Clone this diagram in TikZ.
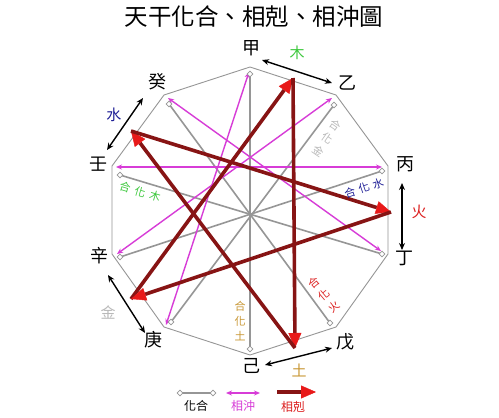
\documentclass[tikz,border=0pt]{standalone}
\usepackage{fontspec}
\newfontfamily\cjk{Noto Sans CJK TC}
\usetikzlibrary{arrows.meta,shapes.geometric,calc}
\definecolor{hegray}{RGB}{150,150,150}
\definecolor{chong}{RGB}{215,60,215}
\definecolor{ke}{RGB}{135,20,20}
\definecolor{kehead}{RGB}{232,25,25}
\definecolor{mugreen}{RGB}{60,200,60}
\definecolor{huored}{RGB}{220,30,30}
\definecolor{tugold}{RGB}{200,150,50}
\definecolor{jingray}{RGB}{185,185,185}
\definecolor{shuiblue}{RGB}{30,30,150}
\tikzset{
 edgeline/.style={draw=hegray, line width=0.9pt},
 heline/.style={draw=hegray, line width=1.6pt},
 hemark/.style={diamond, draw=hegray, fill=white, line width=0.8pt, inner sep=0pt, minimum size=6pt},
 chongline/.style={draw=chong, line width=1.4pt, {Stealth[length=6pt,width=5pt]}-{Stealth[length=6pt,width=5pt]}},
 keline/.style={draw=ke, line width=3.6pt, -{Triangle[length=15pt,width=13pt,color=kehead,line width=0.4pt]}},
 elarrow/.style={draw=black, line width=1.4pt, {Stealth[length=7pt,width=6pt]}-{Stealth[length=7pt,width=6pt]}},
 stem/.style={font=\cjk\fontsize{18}{18}\selectfont, inner sep=0pt},
 elem/.style={font=\cjk\fontsize{15}{15}\selectfont, inner sep=0pt},
 smalllbl/.style={font=\cjk\fontsize{11}{11}\selectfont, inner sep=0pt},
 legendlbl/.style={font=\cjk\fontsize{12}{12}\selectfont, inner sep=0pt},
}
\begin{document}
\begin{tikzpicture}[x=1pt,y=-1pt]
\useasboundingbox[fill=white] (0,0) rectangle (499,418);
% decagon vertices
\coordinate (vJia) at (250,67);
\coordinate (vYi) at (336,95);
\coordinate (vBing) at (388,166);
\coordinate (vDing) at (388,254);
\coordinate (vWu) at (336,327);
\coordinate (vJi) at (250,355);
\coordinate (vGeng) at (164,327);
\coordinate (vXin) at (112,254);
\coordinate (vRen) at (112,166);
\coordinate (vGui) at (164,95);
% gray (he) end points
\coordinate (hJia) at (250,74);
\coordinate (hJi) at (250,349);
\coordinate (hYi) at (334,105);
\coordinate (hGeng) at (171,322);
\coordinate (hBing) at (382,171);
\coordinate (hXin) at (120,257);
\coordinate (hDing) at (382,254);
\coordinate (hRen) at (120,175);
\coordinate (hWu) at (330,323);
\coordinate (hGui) at (169,104);
% magenta (chong) end points
\coordinate (cJia) at (249,72);
\coordinate (cGeng) at (166,325);
\coordinate (cYi) at (332,98);
\coordinate (cXin) at (117,254);
\coordinate (cBing) at (382,167);
\coordinate (cRen) at (116,167);
\coordinate (cDing) at (381,251);
\coordinate (cGui) at (168,98);
% element points
\coordinate (eMu) at (293,78);
\coordinate (eHuo) at (391,212);
\coordinate (eTu) at (295,348);
\coordinate (eJin) at (131,299);
\coordinate (eShui) at (131,131);

% title
\node[font=\cjk\fontsize{23.5}{23.5}\selectfont, inner sep=0pt] (title) at (254,17) {天干化合、相剋、相沖圖};

% decagon
\draw[edgeline] (vJia) -- (vYi) -- (vBing) -- (vDing) -- (vWu) -- (vJi) -- (vGeng) -- (vXin) -- (vRen) -- (vGui) -- cycle;

% he lines
\draw[heline] (hJia) -- (hJi);
\draw[heline] (hYi) -- (hGeng);
\draw[heline] (hBing) -- (hXin);
\draw[heline] (hDing) -- (hRen);
\draw[heline] (hWu) -- (hGui);

% chong lines
\draw[chongline] (cJia) -- (cGeng);
\draw[chongline] (cYi) -- (cXin);
\draw[chongline] (cBing) -- (cRen);
\draw[chongline] (cDing) -- (cGui);

% ke arrows
\draw[keline] (eJin) -- (eMu);
\draw[keline] (eMu) -- (eTu);
\draw[keline] (eTu) -- (eShui);
\draw[keline] (eShui) -- (eHuo);
\draw[keline] (eHuo) -- (eJin);

% he markers
\foreach \p in {hJia,hJi,hYi,hGeng,hBing,hXin,hDing,hRen,hWu,hGui}
  \node[hemark] at (\p) {};

% stem labels
\node[stem] (lJia) at (251,48) {甲};
\node[stem] (lYi) at (347,83) {乙};
\node[stem] (lBing) at (405,164) {丙};
\node[stem] (lDing) at (404,258) {丁};
\node[stem] (lWu) at (345,342) {戊};
\node[stem] (lJi) at (251,366) {己};
\node[stem] (lGeng) at (153,340) {庚};
\node[stem] (lXin) at (99,256) {辛};
\node[stem] (lRen) at (98,164) {壬};
\node[stem] (lGui) at (157,82) {癸};

% element double arrows
\coordinate (aMu1) at (262,60);   \coordinate (aMu2) at (332,83);
\coordinate (aHuo1) at (402,183); \coordinate (aHuo2) at (402,250);
\coordinate (aTu1) at (332,348);  \coordinate (aTu2) at (265,365);
\coordinate (aJin1) at (108,275); \coordinate (aJin2) at (145,333);
\coordinate (aShui1) at (143,98); \coordinate (aShui2) at (107,150);
\draw[elarrow] (aMu1) -- (aMu2);
\draw[elarrow] (aHuo1) -- (aHuo2);
\draw[elarrow] (aTu1) -- (aTu2);
\draw[elarrow] (aJin1) -- (aJin2);
\draw[elarrow] (aShui1) -- (aShui2);

% element labels
\node[elem, text=mugreen] (tMu) at (297,53) {木};
\node[elem, text=huored] (tHuo) at (419,212) {火};
\node[elem, text=tugold] (tTu) at (299,370) {土};
\node[elem, text=jingray] (tJin) at (108,313) {金};
\node[elem, text=shuiblue] (tShui) at (114,115) {水};

% he labels (one character per node)
\node[smalllbl, text=tugold] (sTu1) at (240,306) {合};
\node[smalllbl, text=tugold] (sTu2) at (240,321) {化};
\node[smalllbl, text=tugold] (sTu3) at (240,336) {土};
\node[smalllbl, text=jingray, rotate=-35] (sJin1) at (335,125) {合};
\node[smalllbl, text=jingray, rotate=-35] (sJin2) at (327,138) {化};
\node[smalllbl, text=jingray, rotate=-35] (sJin3) at (319,151) {金};
\node[smalllbl, text=shuiblue, rotate=19] (sShui1) at (350,192.5) {合};
\node[smalllbl, text=shuiblue, rotate=19] (sShui2) at (364,188) {化};
\node[smalllbl, text=shuiblue, rotate=19] (sShui3) at (378,183.5) {水};
\node[smalllbl, text=mugreen, rotate=-17] (sMu1) at (125,187.5) {合};
\node[smalllbl, text=mugreen, rotate=-17] (sMu2) at (140,192) {化};
\node[smalllbl, text=mugreen, rotate=-17] (sMu3) at (155,196.5) {木};
\node[smalllbl, text=huored, rotate=40] (sHuo1) at (314,283) {合};
\node[smalllbl, text=huored, rotate=40] (sHuo2) at (324,295) {化};
\node[smalllbl, text=huored, rotate=40] (sHuo3) at (334,307) {火};

% legend
\coordinate (lgA) at (180,393); \coordinate (lgB) at (213,393);
\draw[heline] (lgA) -- (lgB);
\node[hemark] at (lgA) {};
\node[hemark] at (lgB) {};
\node[legendlbl] (lg1) at (196,406) {化合};
\coordinate (lgC) at (226,393); \coordinate (lgD) at (260,393);
\draw[chongline] (lgC) -- (lgD);
\node[legendlbl, text=chong] (lg2) at (243,406) {相沖};
\coordinate (lgE) at (277,392); \coordinate (lgF) at (316,392);
\draw[keline] (lgE) -- (lgF);
\node[legendlbl, text=huored] (lg3) at (293,407) {相剋};
\end{tikzpicture}
\end{document}
